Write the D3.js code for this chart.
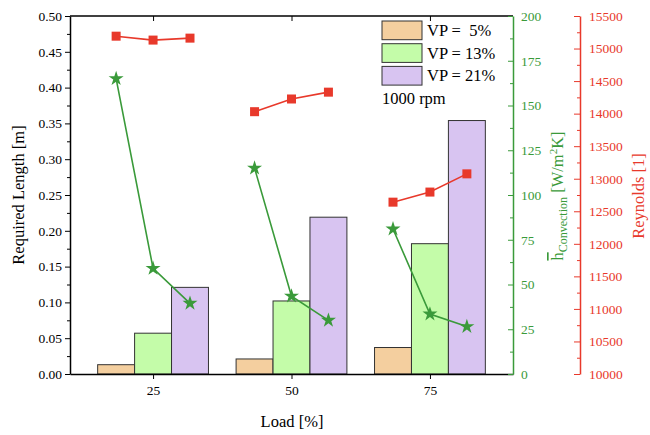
<!DOCTYPE html>
<html>
<head>
<meta charset="utf-8">
<script src="https://cdn.jsdelivr.net/npm/d3@7"></script>
<style>
  body { margin: 0; background: #fff; }
  text { font-family: "Liberation Serif", "Times New Roman", serif; }
</style>
</head>
<body>
<script>
// data
const loads = [25, 50, 75];
const vpLabels = ['VP =  5%', 'VP = 13%', 'VP = 21%'];
const lengthVP5 = [0.013, 0.021, 0.037];
const lengthVP13 = [0.057, 0.102, 0.182];
const lengthVP21 = [0.121, 0.219, 0.354];
const hConv = [[165, 59, 39.5], [115, 43.5, 30], [81, 33.5, 26.5]];   // per load: VP5, VP13, VP21
const reynolds = [[15190, 15130, 15160], [14030, 14225, 14330], [12640, 12795, 13075]];
const barColors = ['#f4cf9f', '#c4fca9', '#d8c4f1'];

const W = 650, H = 435;
const M = { left: 70, right: 513, top: 16, bottom: 374 };
const green = '#3a9a3a', red = '#e8392b';
const serif = 'Liberation Serif, serif';

const svg = d3.select('body').append('svg')
              .attr('width', W).attr('height', H);

// scales
const x = d3.scaleLinear().domain([10, 90]).range([M.left, M.right]);
const yL = d3.scaleLinear().domain([0, 0.5]).range([M.bottom, M.top]);
const yH = d3.scaleLinear().domain([0, 200]).range([M.bottom, M.top]);
const yR = d3.scaleLinear().domain([10000, 15500]).range([M.bottom, M.top]);
const bw = 6.67; // bar width in load units
const offs = [-bw, 0, bw];

// bars
const series = [lengthVP5, lengthVP13, lengthVP21];
series.forEach((s, k) => {
  svg.append('g').selectAll('rect')
     .data(s)
     .enter().append('rect')
     .attr('x', (d, i) => x(loads[i] + offs[k] - bw / 2))
     .attr('width', x(bw) - x(0))
     .attr('y', d => yL(d))
     .attr('height', d => M.bottom - yL(d))
     .attr('fill', barColors[k])
     .attr('stroke', '#333')
     .attr('stroke-width', 1);
});

// frame top
svg.append('line').attr('x1', M.left).attr('x2', M.right)
   .attr('y1', M.top).attr('y2', M.top).attr('stroke', '#000').attr('stroke-width', 1.5);

// axis styling helper
function fontify(g, color, size) {
  g.attr('font-family', serif).attr('font-size', size);
  g.selectAll('text').style('font-size', size + 'px')
   .style('font-family', serif).attr('fill', color);
  g.selectAll('line').attr('stroke', color);
  g.select('.domain').attr('stroke', color).attr('stroke-width', 1.5);
}

// left axis with minor ticks
const gL = svg.append('g').attr('transform', `translate(${M.left},0)`)
  .call(d3.axisLeft(yL).tickValues(d3.range(0, 0.501, 0.05)).tickFormat(d3.format('.2f')).tickSize(5).tickSizeOuter(0));
fontify(gL, '#000', 13.5);
svg.append('g').attr('transform', `translate(${M.left},0)`)
  .call(d3.axisLeft(yL).tickValues(d3.range(0.025, 0.5, 0.05)).tickFormat('').tickSize(3).tickSizeOuter(0))
  .call(g => { g.select('.domain').remove(); g.selectAll('line').attr('stroke', '#000'); });

// bottom axis
const gB = svg.append('g').attr('transform', `translate(0,${M.bottom})`)
  .call(d3.axisBottom(x).tickValues(loads).tickSize(5).tickSizeOuter(0).tickPadding(6));
fontify(gB, '#000', 13.5);
// top inner ticks
svg.append('g').attr('transform', `translate(0,${M.top})`)
  .call(d3.axisBottom(x).tickValues(loads).tickFormat('').tickSize(5).tickSizeOuter(0))
  .call(g => { g.select('.domain').remove(); g.selectAll('line').attr('stroke', '#000'); });

// green axis (heat transfer coefficient)
const gH = svg.append('g').attr('transform', `translate(${M.right},0)`)
  .call(d3.axisRight(yH).tickValues(d3.range(0, 201, 25)).tickSizeInner(-5).tickSizeOuter(0).tickPadding(8));
fontify(gH, green, 13.5);
svg.append('g').attr('transform', `translate(${M.right},0)`)
  .call(d3.axisRight(yH).tickValues(d3.range(12.5, 200, 25)).tickFormat('').tickSize(-3).tickSizeOuter(0))
  .call(g => { g.select('.domain').remove(); g.selectAll('line').attr('stroke', green); });

// red axis (Reynolds)
const xR = 580;
const gR = svg.append('g').attr('transform', `translate(${xR},0)`)
  .call(d3.axisRight(yR).tickValues(d3.range(10000, 15501, 500)).tickFormat(d3.format('d'))
        .tickSizeInner(-6).tickSizeOuter(0).tickPadding(9));
fontify(gR, red, 13.5);
svg.append('g').attr('transform', `translate(${xR},0)`)
  .call(d3.axisRight(yR).tickValues(d3.range(10250, 15500, 500)).tickFormat('').tickSize(-3).tickSizeOuter(0))
  .call(g => { g.select('.domain').remove(); g.selectAll('line').attr('stroke', red); });

// lines: red squares and green stars
const star = d3.symbol().type(d3.symbolStar).size(70);
loads.forEach((L, i) => {
  const pts = offs.map((o, k) => [x(L + o), yR(reynolds[i][k])]);
  svg.append('path').datum(pts).attr('d', d3.line())
     .attr('fill', 'none').attr('stroke', red).attr('stroke-width', 1.6);
  svg.append('g').selectAll('rect').data(pts).enter().append('rect')
     .attr('x', d => d[0] - 4.5).attr('y', d => d[1] - 4.5)
     .attr('width', 9).attr('height', 9).attr('fill', red);

  const hp = offs.map((o, k) => [x(L + o), yH(hConv[i][k])]);
  svg.append('path').datum(hp).attr('d', d3.line())
     .attr('fill', 'none').attr('stroke', green).attr('stroke-width', 1.6);
  svg.append('g').selectAll('path').data(hp).enter().append('path')
     .attr('d', star).attr('transform', d => `translate(${d[0]},${d[1]})`)
     .attr('fill', green);
});

// legend
const lg = svg.append('g').attr('transform', 'translate(382,21)');
vpLabels.forEach((t, k) => {
  lg.append('rect').attr('x', 0).attr('y', k * 22.7).attr('width', 40).attr('height', 18.7)
    .attr('fill', barColors[k]).attr('stroke', '#333').attr('stroke-width', 1);
  lg.append('text').attr('x', 45).attr('y', k * 22.7 + 15).text(t)
    .style('font-size', '16.5px').style('white-space', 'pre').attr('xml:space', 'preserve');
});
lg.append('text').attr('x', 0).attr('y', 83).text('1000 rpm').style('font-size', '16.5px');

// axis titles
svg.append('text').attr('transform', `translate(24,195) rotate(-90)`)
   .attr('text-anchor', 'middle').style('font-size', '16.5px').text('Required Length [m]');
svg.append('text').attr('x', 292).attr('y', 427)
   .attr('text-anchor', 'middle').style('font-size', '16.5px').text('Load [%]');

const th = svg.append('text').attr('transform', `translate(563,196) rotate(-90)`)
   .attr('text-anchor', 'middle').style('font-size', '16.5px').attr('fill', green);
th.append('tspan').text('h').style('text-decoration', 'overline');
th.append('tspan').text('Convection').style('font-size', '12px').attr('dy', 4);
th.append('tspan').text(' [W/m').attr('dy', -4);
th.append('tspan').text('2').style('font-size', '11px').attr('dy', -6);
th.append('tspan').text('K]').attr('dy', 6);

svg.append('text').attr('transform', `translate(644,196) rotate(-90)`)
   .attr('text-anchor', 'middle').style('font-size', '16.5px').attr('fill', red).text('Reynolds [1]');
</script>
</body>
</html>
